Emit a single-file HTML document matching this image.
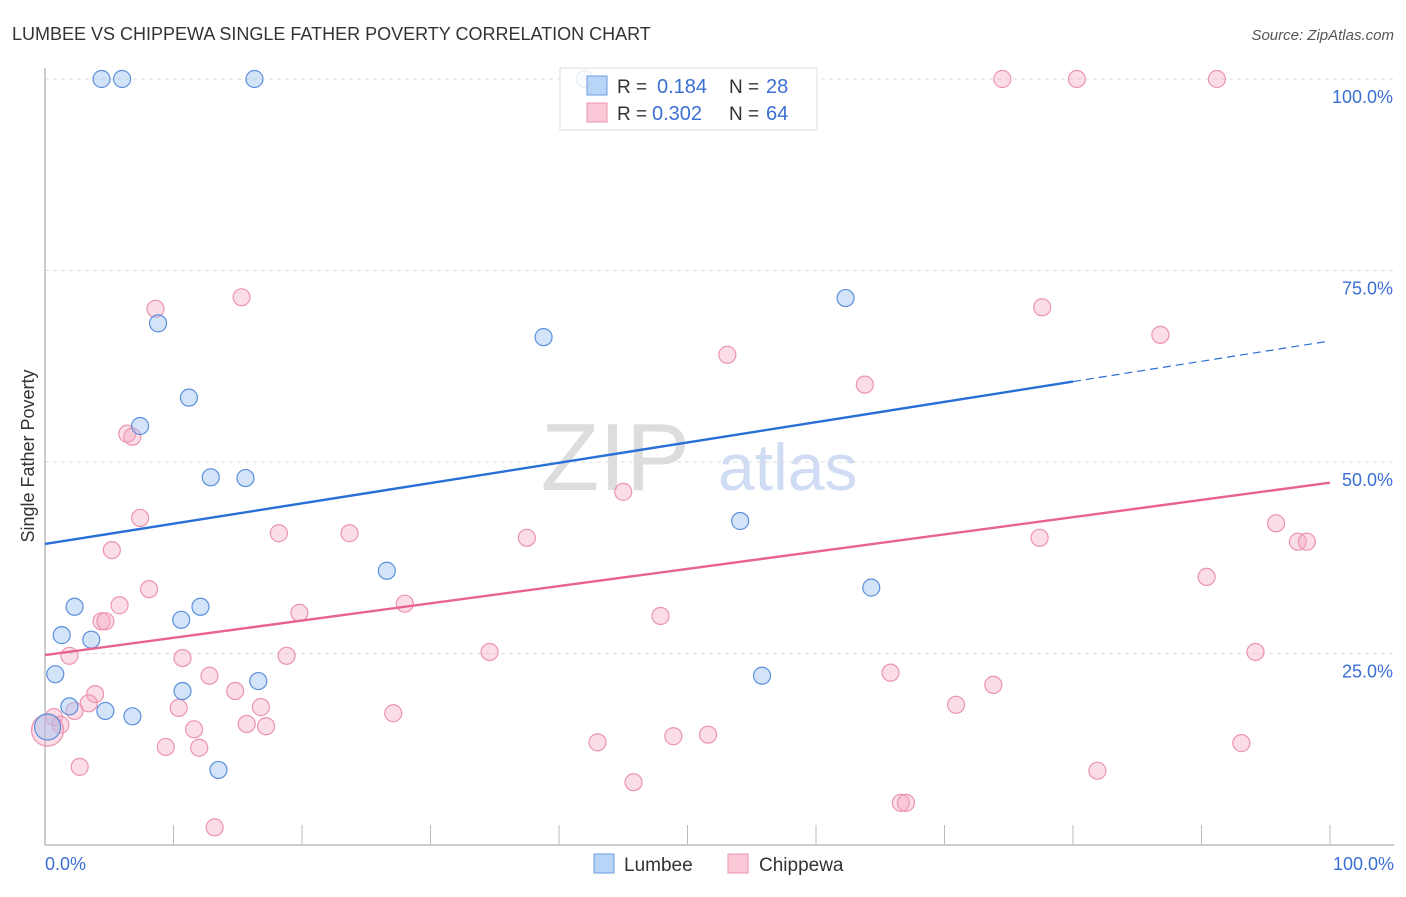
<!DOCTYPE html>
<html><head><meta charset="utf-8"><style>
body{margin:0;background:#fff;font-family:"Liberation Sans",sans-serif;}
svg text{font-family:"Liberation Sans",sans-serif;}
</style></head><body>
<svg width="1406" height="892" xmlns="http://www.w3.org/2000/svg">
<text x="12" y="40" font-size="18" fill="#333">LUMBEE VS CHIPPEWA SINGLE FATHER POVERTY CORRELATION CHART</text>
<text x="1394" y="40" font-size="15" fill="#555" font-style="italic" text-anchor="end">Source: ZipAtlas.com</text>
<text x="690" y="490" font-size="96" fill="#ddd" font-family="Liberation Serif" text-anchor="end">ZIP</text>
<text x="718" y="490" font-size="66" fill="#cfdcf3">atlas</text>
<g id="grid"></g>
<line x1="45" y1="68" x2="45" y2="845" stroke="#bbb" stroke-width="1.5"/>
<line x1="45" y1="845" x2="1394" y2="845" stroke="#bbb" stroke-width="1.5"/>
<text x="34" y="456" font-size="18" fill="#333" text-anchor="middle" transform="rotate(-90 34 456)">Single Father Poverty</text>
<text x="45" y="870" font-size="18" fill="#3b6fd4">0.0%</text>
<text x="1394" y="870" font-size="18" fill="#3b6fd4" text-anchor="end">100.0%</text>
<g id="pts"></g>
<g id="lines"></g>
<g>
<rect x="560" y="68" width="257" height="62" fill="rgba(255,255,255,0.85)" stroke="#ddd"/>
<rect x="587" y="76" width="20" height="19" fill="#b8d4f6" stroke="#6b9ee0"/>
<rect x="587" y="103" width="20" height="19" fill="#fac8d6" stroke="#ec94ae"/>
<text x="617" y="93" font-size="19" fill="#333">R =</text>
<text x="657" y="93" font-size="20" fill="#3b6fd4">0.184</text>
<text x="729" y="93" font-size="19" fill="#333">N =</text>
<text x="766" y="93" font-size="20" fill="#3b6fd4">28</text>
<text x="617" y="120" font-size="19" fill="#333">R =</text>
<text x="652" y="120" font-size="20" fill="#3b6fd4">0.302</text>
<text x="729" y="120" font-size="19" fill="#333">N =</text>
<text x="766" y="120" font-size="20" fill="#3b6fd4">64</text>
</g>
<g><rect x="594" y="854" width="20" height="19" fill="#b8d4f6" stroke="#6b9ee0"/><text x="624" y="871" font-size="19" fill="#333">Lumbee</text></g>
<g><rect x="728" y="854" width="20" height="19" fill="#fac8d6" stroke="#ec94ae"/><text x="759" y="871" font-size="19" fill="#333">Chippewa</text></g>
</svg>
<script>
const yTicks=[25,50,75,100];
const yTickLabels=["25.0%","50.0%","75.0%","100.0%"];
const lumbeeX=[4.4,6.0,16.3,42.0,8.8,7.4,11.2,12.9,15.6,38.8,62.3,54.1,26.6,64.3,2.3,1.3,3.6,10.6,12.1,0.8,10.7,16.6,55.8,1.9,4.7,6.8,13.5,0.2];
const lumbeeY=[100,100,100,100,68.1,54.7,58.4,48.0,47.9,66.3,71.4,42.3,35.8,33.6,31.1,27.4,26.8,29.4,31.1,22.3,20.1,21.4,22.1,18.1,17.5,16.8,9.8,15.4];
const chipX=[74.5,80.3,91.2,8.6,15.3,77.6,86.8,53.1,63.8,6.4,6.8,45.0,7.4,5.2,18.2,23.7,37.5,77.4,95.8,97.5,98.2,8.1,5.8,28.0,19.8,47.9,90.4,4.4,4.7,1.9,10.7,18.8,34.6,94.2,12.8,65.8,73.8,3.9,14.8,3.4,2.3,10.4,16.8,70.9,27.1,0.7,1.2,15.7,17.2,11.6,9.4,12.0,48.9,51.6,43.0,93.1,2.7,81.9,45.8,66.6,67.0,13.2,0.2];
const chipY=[100,100,100,70.0,71.5,70.2,66.6,64.0,60.1,53.7,53.3,46.1,42.7,38.5,40.7,40.7,40.1,40.1,42.0,39.6,39.6,33.4,31.3,31.5,30.3,29.9,35.0,29.2,29.2,24.7,24.4,24.7,25.2,25.2,22.1,22.5,20.9,19.7,20.1,18.5,17.5,17.9,18.0,18.3,17.2,16.7,15.7,15.8,15.5,15.1,12.8,12.7,14.2,14.4,13.4,13.3,10.2,9.7,8.2,5.5,5.5,2.3,15.0];
const lumbeeTrend=[39.3,65.8];
const chipTrend=[24.8,47.3];
const NS="http://www.w3.org/2000/svg";
const sx=v=>45+v*12.85, sy=v=>845-v*7.66;
const grid=document.getElementById('grid');
yTicks.forEach((t,i)=>{
 const l=document.createElementNS(NS,'line');
 l.setAttribute('x1',45);l.setAttribute('x2',1394);l.setAttribute('y1',sy(t));l.setAttribute('y2',sy(t));
 l.setAttribute('stroke','#ddd');l.setAttribute('stroke-dasharray','4,4');
 
 
 grid.appendChild(l);
 const tx=document.createElementNS(NS,'text');
 tx.setAttribute('x',1393);tx.setAttribute('y',sy(t)+24);tx.setAttribute('text-anchor','end');
 tx.setAttribute('font-size','18');tx.setAttribute('fill','#3b6fd4');tx.textContent=yTickLabels[i];
 
 
 grid.appendChild(tx);
});
for(let k=0;k<=10;k++){
 const l=document.createElementNS(NS,'line');
 l.setAttribute('x1',sx(k*10));l.setAttribute('x2',sx(k*10));l.setAttribute('y1',825);l.setAttribute('y2',845);
 l.setAttribute('stroke','#bbb');
 
 
 grid.appendChild(l);
}
const pts=document.getElementById('pts');
function dot(x,y,r,fill,stroke,name){
 const c=document.createElementNS(NS,'circle');
 c.setAttribute('cx',sx(x));c.setAttribute('cy',sy(y));c.setAttribute('r',r);
 c.setAttribute('fill',fill);c.setAttribute('stroke',stroke);c.setAttribute('stroke-width','1.2');
 
 
 pts.appendChild(c);
}
chipX.forEach((x,i)=>dot(x,chipY[i],i==chipX.length-1?16:8.5,'rgba(246,170,195,0.4)','#ec94ae','chippewa-point'));
lumbeeX.forEach((x,i)=>dot(x,lumbeeY[i],i==lumbeeX.length-1?13:8.5,'rgba(160,195,240,0.45)','#5b8fdc','lumbee-point'));
const lines=document.getElementById('lines');
function seg(x1,y1,x2,y2,col,dash,name){
 const l=document.createElementNS(NS,'line');
 l.setAttribute('x1',sx(x1));l.setAttribute('y1',sy(y1));l.setAttribute('x2',sx(x2));l.setAttribute('y2',sy(y2));
 l.setAttribute('stroke',col);l.setAttribute('stroke-width',dash?1.2:2.4);
 if(dash)l.setAttribute('stroke-dasharray','8,5');
 
 
 lines.appendChild(l);
}
const lt=x=>lumbeeTrend[0]+(lumbeeTrend[1]-lumbeeTrend[0])*x/100;
seg(0,lt(0),80,lt(80),'#2a6fd6',false,'lumbee-trendline');
seg(80,lt(80),100,lt(100),'#2a6fd6',true,'lumbee-trendline-extension');
seg(0,chipTrend[0],100,chipTrend[1],'#e8648e',false,'chippewa-trendline');
</script>
</body></html>
